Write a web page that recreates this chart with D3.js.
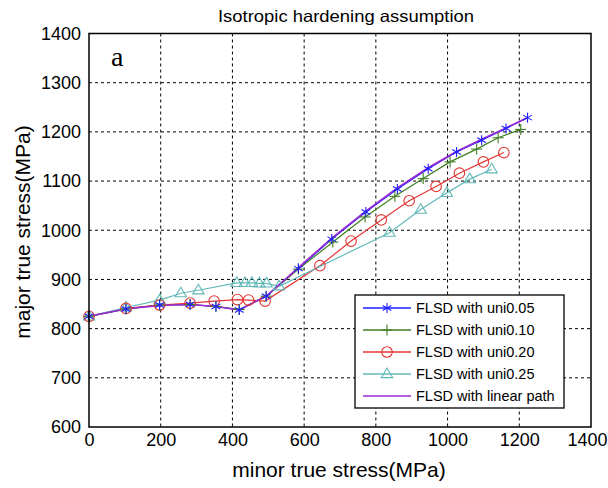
<!DOCTYPE html>
<html><head><meta charset="utf-8">
<script src="https://cdn.jsdelivr.net/npm/d3@7"></script>
<style>
body{margin:0;background:#fff;}
text{font-family:"Liberation Sans",Arial,sans-serif;fill:#000;}
</style></head>
<body><svg id="c" width="608" height="488"></svg>
<script>
const xTicks=[0,200,400,600,800,1000,1200,1400];
const yTicks=[600,700,800,900,1000,1100,1200,1300,1400];
const uni005X=[0,103,197,282,354,419,494,584,677,772,860,946,1025,1095,1163,1223];
const uni005Y=[825,840,848,849,845,838,866,922,982,1037,1084,1125,1159,1183,1207,1229];
const uni010X=[0,103,197,282,354,419,494,584,680,770,853,932,1007,1081,1141,1204];
const uni010Y=[825,840,848,849,845,839,866,921,976,1027,1069,1105,1139,1165,1188,1205];
const uni020X=[0,103,197,282,349,414,445,491,644,731,815,893,968,1033,1100,1157];
const uni020Y=[825,841,848,852,856,859,858,856,928,978,1021,1060,1089,1116,1139,1158];
const uni025X=[0,103,197,256,305,412,435,454,475,495,530,838,925,998,1062,1123];
const uni025Y=[825,843,858,872,878,893,893,893,892,892,886,995,1042,1076,1104,1124];
const linearX=[0,103,197,282,354,419,494,584,677,772,860,946,1025,1095,1163,1223];
const linearY=[825,840,847,849,845,838,866,924,984,1039,1086,1127,1160,1185,1208,1229];
const seriesNames=["FLSD with uni0.05","FLSD with uni0.10","FLSD with uni0.20","FLSD with uni0.25","FLSD with linear path"];

const series=[
 {name:seriesNames[0],xs:uni005X,ys:uni005Y,color:"#1f1fff",marker:"star"},
 {name:seriesNames[1],xs:uni010X,ys:uni010Y,color:"#3f7f1f",marker:"plus"},
 {name:seriesNames[2],xs:uni020X,ys:uni020Y,color:"#e53535",marker:"circle"},
 {name:seriesNames[3],xs:uni025X,ys:uni025Y,color:"#62b8b8",marker:"triangle"},
 {name:seriesNames[4],xs:linearX,ys:linearY,color:"#9a2ad6",marker:null}
];

const svg=d3.select("#c");
const L=89,R=591,T=33.5,B=427;
const x=d3.scaleLinear().domain([0,1400]).range([L,R]);
const y=d3.scaleLinear().domain([600,1400]).range([B,T]);

// grid
const g=svg.append("g");
g.selectAll("line.gx").data(xTicks.slice(1,-1)).join("line")
 .attr("x1",d=>x(d)).attr("x2",d=>x(d)).attr("y1",T).attr("y2",B)
 .attr("stroke","#000").attr("stroke-width",1).attr("stroke-dasharray","3,3");
g.selectAll("line.gy").data(yTicks.slice(1,-1)).join("line")
 .attr("y1",d=>y(d)).attr("y2",d=>y(d)).attr("x1",L).attr("x2",R)
 .attr("stroke","#000").attr("stroke-width",1).attr("stroke-dasharray","3,3");

// axes labels via d3 axes
const fmt=d3.format("d");
const xa=svg.append("g").attr("transform",`translate(0,${B})`)
 .call(d3.axisBottom(x).tickValues(xTicks).tickFormat(fmt).tickSize(0).tickPadding(6));
const ya=svg.append("g").attr("transform",`translate(${L},0)`)
 .call(d3.axisLeft(y).tickValues(yTicks).tickFormat(fmt).tickSize(0).tickPadding(8));
[xa,ya].forEach(a=>{a.select(".domain").remove();a.selectAll("text").attr("font-size",18).attr("font-family","Liberation Sans, Arial, sans-serif").attr("fill","#000");});
xa.selectAll("text").filter(d=>d===1400).attr("dx",-4);

// lines
const line=d3.line().x(d=>x(d[0])).y(d=>y(d[1]));
const plotG=svg.append("g");
series.forEach(s=>{
 const pts=s.xs.map((v,i)=>[v,s.ys[i]]);
 plotG.append("path").datum(pts).attr("d",line).attr("fill","none")
  .attr("stroke",s.color).attr("stroke-width",s.marker?1.2:1.6);
});
function drawMarker(sel,type,cx,cy,color){
 if(type==="star"){
  const r=5;
  const gg=sel.append("g").attr("stroke",color).attr("stroke-width",1.1);
  [[0,-r,0,r],[-r*0.87,-r*0.5,r*0.87,r*0.5],[-r*0.87,r*0.5,r*0.87,-r*0.5]].forEach(l=>{
   gg.append("line").attr("x1",cx+l[0]).attr("y1",cy+l[1]).attr("x2",cx+l[2]).attr("y2",cy+l[3]);});
 } else if(type==="plus"){
  const r=5.5;
  const gg=sel.append("g").attr("stroke",color).attr("stroke-width",1.1);
  gg.append("line").attr("x1",cx-r).attr("x2",cx+r).attr("y1",cy).attr("y2",cy);
  gg.append("line").attr("x1",cx).attr("x2",cx).attr("y1",cy-r).attr("y2",cy+r);
 } else if(type==="circle"){
  sel.append("circle").attr("cx",cx).attr("cy",cy).attr("r",5.3).attr("fill","none").attr("stroke",color).attr("stroke-width",1.1);
 } else if(type==="triangle"){
  const h=6;
  sel.append("path").attr("d",`M${cx},${cy-h} L${cx+h*0.95},${cy+h*0.6} L${cx-h*0.95},${cy+h*0.6} Z`)
   .attr("fill","none").attr("stroke",color).attr("stroke-width",1.1);
 }
}
[3,2,1,0].forEach(k=>{
 const s=series[k];
 s.xs.forEach((v,i)=>drawMarker(plotG,s.marker,x(v),y(s.ys[i]),s.color));
});

// border
svg.append("rect").attr("x",L).attr("y",T).attr("width",R-L).attr("height",B-T)
 .attr("fill","none").attr("stroke","#000").attr("stroke-width",1.5);

// legend
const lg=svg.append("g");
lg.append("rect").attr("x",355).attr("y",295).attr("width",209).attr("height",113)
 .attr("fill","#fff").attr("stroke","#000").attr("stroke-width",1.3);
series.forEach((s,i)=>{
 const ly=308+i*22;
 lg.append("line").attr("x1",363).attr("x2",411).attr("y1",ly).attr("y2",ly).attr("stroke",s.color).attr("stroke-width",1.3);
 if(s.marker) drawMarker(lg,s.marker,387,ly,s.color);
 lg.append("text").attr("x",416).attr("y",ly+5).attr("font-size",14.5).text(s.name);
});

// titles
svg.append("text").attr("x",346).attr("y",22).attr("text-anchor","middle").attr("font-size",16.5).attr("textLength",256).attr("lengthAdjust","spacingAndGlyphs").text("Isotropic hardening assumption");
svg.append("text").attr("x",339).attr("y",477).attr("text-anchor","middle").attr("font-size",21).text("minor true stress(MPa)");
svg.append("text").attr("transform","translate(30,232) rotate(-90)").attr("text-anchor","middle").attr("font-size",21).text("major true stress(MPa)");
svg.append("text").attr("x",111).attr("y",66).attr("font-size",28).style("font-family","Liberation Serif, Times New Roman, serif").text("a");
</script></body></html>
